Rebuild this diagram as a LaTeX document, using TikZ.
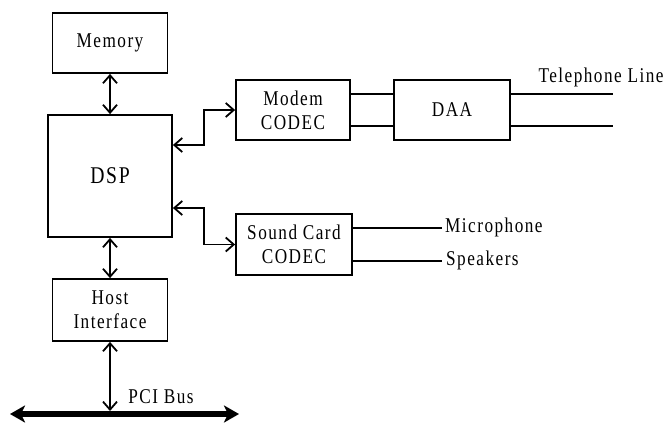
\documentclass[tikz,border=0pt]{standalone}
\usepackage{fontspec}
\setmainfont{Liberation Serif}[FakeStretch=0.82,LetterSpace=7]
\usetikzlibrary{arrows.meta}

\tikzset{
  blk/.style={draw, line width=1.8pt, inner sep=0pt, align=center,
    font=\fontsize{21}{24}\selectfont},
  lbl/.style={inner sep=0pt, font=\fontsize{21}{24}\selectfont},
  link/.style={line width=1.8pt,
    {Straight Barb[length=8pt,width=14pt]}-{Straight Barb[length=8pt,width=14pt]}},
  wire/.style={line width=1.8pt},
  bus/.style={line width=6pt,
    {Stealth[length=15pt,width=17pt,inset=4pt]}-{Stealth[length=15pt,width=17pt,inset=4pt]}},
}

\begin{document}
\begin{tikzpicture}[x=1pt,y=-1pt]
\useasboundingbox (0,0) rectangle (668,424);

% blocks
\node[blk, minimum width=115pt, minimum height=60pt] (mem) at (110,43) {Memory};
\node[blk, minimum width=124pt, minimum height=122pt, font=\fontsize{24}{27}\selectfont] (dsp) at (110,176) {DSP};
\node[blk, minimum width=115pt, minimum height=62pt] (host) at (110,310) {Host\\Interface};
\node[blk, minimum width=114pt, minimum height=60pt] (modem) at (293,110) {Modem\\CODEC};
\node[blk, minimum width=116pt, minimum height=60pt] (daa) at (452,110) {DAA};
\node[blk, minimum width=116pt, minimum height=61pt] (sound) at (294,244.5) {Sound Card\\CODEC};

% free ends
\coordinate (tela) at (613,94);
\coordinate (telb) at (613,126);
\coordinate (mic) at (442,228);
\coordinate (spk) at (442,261);
\coordinate (busl) at (10,414);
\coordinate (busr) at (239,414);

% labels
\node[lbl] (tel) at (601,77) {Telephone Line};
\node[lbl, anchor=west] (miclbl) at (445,227) {Microphone};
\node[lbl, anchor=west] (spklbl) at (446,260) {Speakers};
\node[lbl] (pci) at (161,397) {PCI Bus};

% connectors
\draw[link] (mem.south) -- (dsp.north);
\draw[link] (dsp.south) -- (host.north);
\draw[link] ([yshift=31pt]dsp.east) -| (204,110) -- (modem.west);
\draw[link] ([yshift=-32pt]dsp.east) -| (204,244.5) -- (sound.west);
\draw[link] (host.south) -- ([yshift=3pt]host.south |- busl);

\draw[wire] (modem.east |- tela) -- (daa.west |- tela);
\draw[wire] (modem.east |- telb) -- (daa.west |- telb);
\draw[wire] (daa.east |- tela) -- (tela);
\draw[wire] (daa.east |- telb) -- (telb);
\draw[wire] (sound.east |- mic) -- (mic);
\draw[wire] (sound.east |- spk) -- (spk);

\draw[bus] (busl) -- (busr);
\end{tikzpicture}
\end{document}
